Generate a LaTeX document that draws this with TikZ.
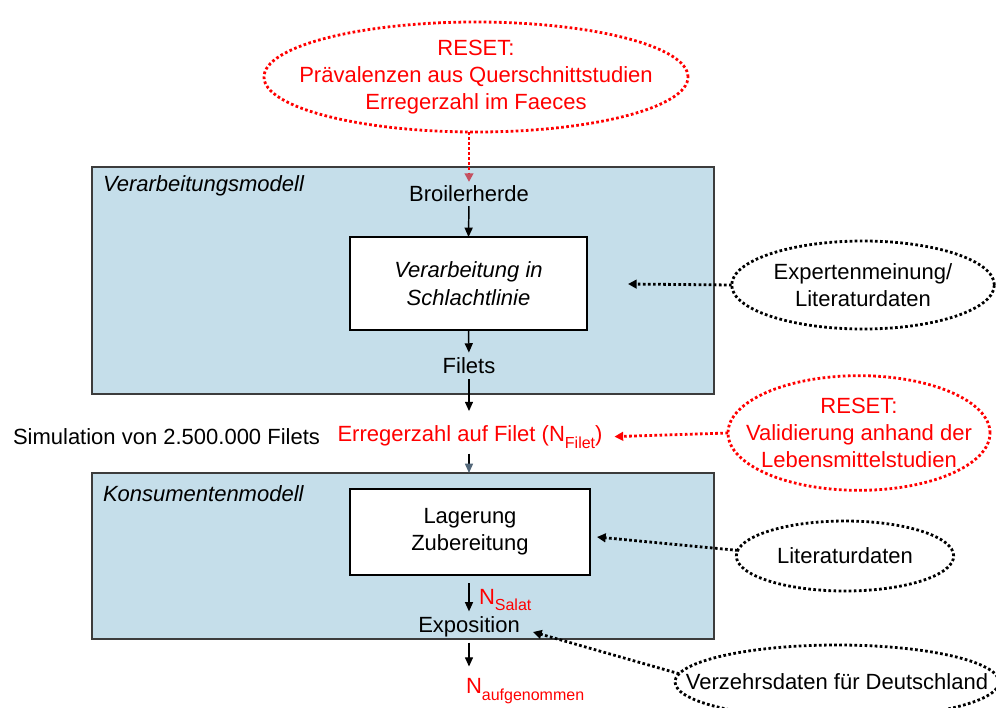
\documentclass[tikz,border=0pt]{standalone}
\usepackage{fontspec}
\setmainfont{Liberation Sans}
\usetikzlibrary{shapes.geometric,arrows.meta}
\definecolor{modelfill}{RGB}{197,222,234}
\definecolor{modeldraw}{RGB}{60,60,60}
\definecolor{rsred}{RGB}{255,0,0}
\definecolor{tipred}{RGB}{196,80,96}
\definecolor{slate}{RGB}{84,104,122}
\newcommand\sbx[1]{\raisebox{-0.55ex}{\fontsize{12}{12}\selectfont #1}}
\begin{document}
\begin{tikzpicture}[x=0.75pt,y=-0.75pt,
  every node/.style={inner sep=0pt, outer sep=0pt, align=center, font=\fontsize{16.5}{20.5}\selectfont},
  model/.style={draw=modeldraw, line width=0.9pt, fill=modelfill, anchor=north west},
  modellabel/.style={anchor=west, font=\fontsize{16.5}{20.5}\selectfont\itshape},
  stepbox/.style={draw=black, line width=0.8pt, fill=white},
  src/.style={ellipse, draw=black, line width=2.1pt, dash pattern=on 2pt off 1.8pt},
  rsrc/.style={src, draw=rsred},
  flow/.style={line width=1.1pt, -{Triangle[length=7pt,width=6pt]}},
  dotarr/.style={line width=2.1pt, dash pattern=on 2pt off 1.8pt, -{Triangle[length=6.5pt,width=6.5pt]}},
]
\useasboundingbox (0,0) rectangle (996,707);

% source ellipses (outline) and their texts
\node[rsrc, minimum width=318pt, minimum height=82.5pt] (resetE) at (476,77) {};
\node[text=rsred] (reset) at (resetE.center)
  {RESET:\\Prävalenzen aus Querschnittstudien\\Erregerzahl im Faeces};
\node[src, minimum width=197pt, minimum height=66pt] (expertE) at (863,285) {};
\node (expert) at (expertE.center) {Expertenmeinung/\\Literaturdaten};
\node[rsrc, minimum width=196.5pt, minimum height=86pt] (validE) at (859,433) {};
\node[text=rsred] (valid) at (validE.center)
  {RESET:\\Validierung anhand der\\Lebensmittelstudien};
\node[src, minimum width=163pt, minimum height=52.5pt] (litE) at (845,556) {};
\node (lit) at (litE.center) {Literaturdaten};
\node[src, minimum width=243pt, minimum height=55.5pt] (verzE) at (837,682) {};
\node (verz) at (verzE.center) {Verzehrsdaten für Deutschland};

% processing model
\node[model, minimum width=466.5pt, minimum height=170.25pt] (vm) at (92,167) {};
\node[modellabel] (vmlabel) at (103,186) {Verarbeitungsmodell};
\node (broiler) at (469,194) {Broilerherde};
\node[stepbox, minimum width=177.75pt, minimum height=69.75pt,
      font=\fontsize{16.5}{20.5}\selectfont\itshape] (schlacht) at (468.5,283.5)
  {Verarbeitung in\\Schlachtlinie};
\node (filets) at (469,366) {Filets};

% simulation line
\node[anchor=west] (sim) at (13,437) {Simulation von 2.500.000 Filets};
\node[text=rsred] (nfilet) at (470,437) {Erregerzahl auf Filet (N\sbx{Filet})};

% consumer model
\node[model, minimum width=466.5pt, minimum height=124.5pt] (km) at (92,473) {};
\node[modellabel] (kmlabel) at (103,494) {Konsumentenmodell};
\node[stepbox, minimum width=180pt, minimum height=64.5pt] (zub) at (470,532)
  {Lagerung\\Zubereitung};
\node[text=rsred, anchor=west] (nsalat) at (479,600) {N\sbx{Salat}};
\node (expo) at (469,627) {Exposition};
\node[text=rsred, anchor=west] (naufg) at (466,691) {N\sbx{aufgenommen}};

\coordinate (expIn) at (628,284);
\coordinate (litIn) at (597,537);
\coordinate (expoIn) at (533,632);

% flow arrows
\draw[flow, shorten <=3pt] (broiler.south) -- (schlacht.north);
\draw[flow, shorten >=4pt] (schlacht.south) -- (filets.north);
\draw[flow, shorten <=4pt, shorten >=11pt] (filets.south) -- (nfilet.north -| filets.south);
\draw[line width=1.1pt, -{Triangle[length=7pt,width=6pt,color=slate]}, shorten <=4pt]
  (nfilet.south -| filets.south) -- (km.north -| filets.south);
\draw[flow, shorten <=6pt, shorten >=4pt] (zub.south -| expo.north) -- (expo.north);
\draw[flow, shorten <=4pt, shorten >=9pt] (expo.south) -- (naufg.north -| expo.south);

% dotted input arrows
\draw[dotarr, draw=rsred, -{Triangle[length=6.5pt,width=6.5pt,color=tipred]}, shorten >=3pt]
  (broiler.north |- resetE.south) -- (broiler.north);
\draw[dotarr, draw=black] (expertE.west) -- (expIn);
\draw[dotarr, draw=rsred, shorten >=9pt] (validE.west) -- (nfilet.east);
\draw[dotarr, draw=black] (litE.177) -- (litIn);
\draw[dotarr, draw=black] (verzE.177) -- (expoIn);
\end{tikzpicture}
\end{document}
